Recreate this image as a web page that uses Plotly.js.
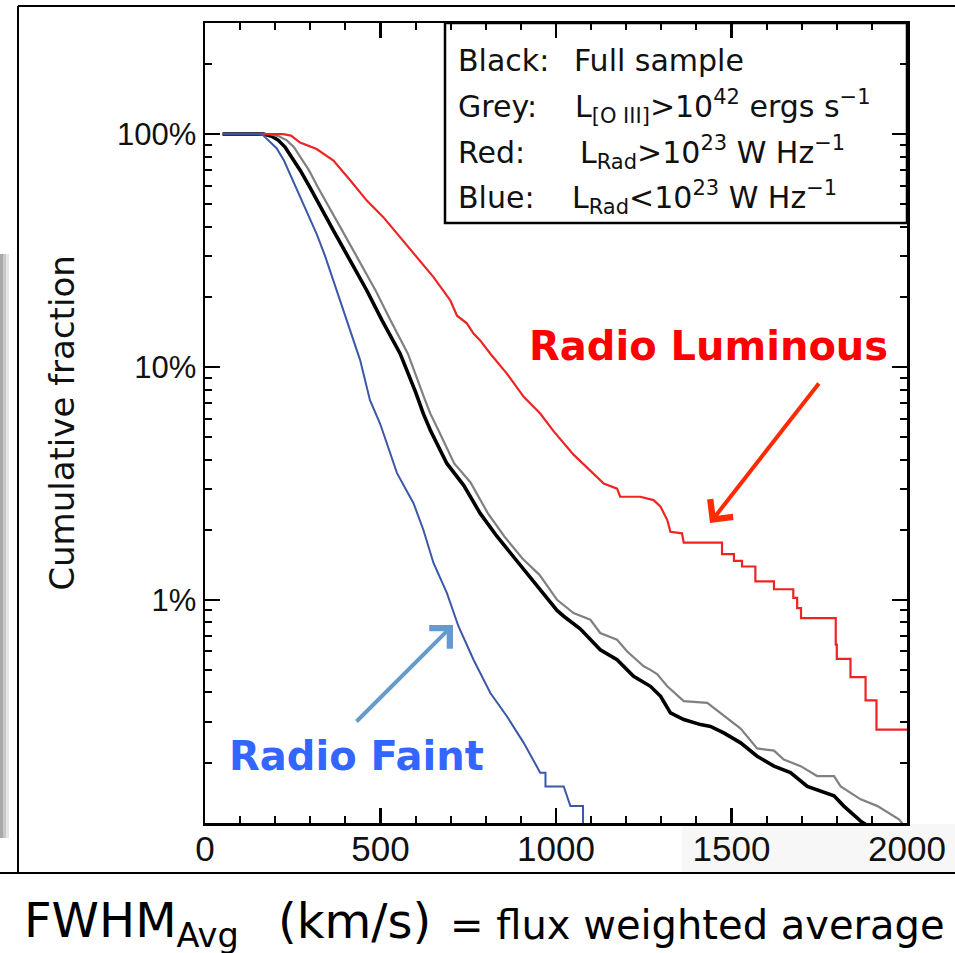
<!DOCTYPE html>
<html><head><meta charset="utf-8">
<script src="https://cdn.plot.ly/plotly-3.0.1.min.js"></script>
<style>html,body{margin:0;padding:0;background:#fff;overflow:hidden;}</style>
</head><body>
<div id="chart" style="width:955px;height:953px;"></div>
<script>
// ---- data (FWHM in km/s, cumulative fraction in %) ----
const fullX = [50,166,190,209,228,242,271,299,318,366,403,461,504,556,600,622,642,689,737,784,832,879,927,955,974,1003,1022,1069,1126,1174,1221,1269,1298,1326,1364,1412,1440,1478,1526,1573,1621,1668,1716,1763,1792,1820,1849,1868,1897];
const fullY = [100,100,98,94,88,82,70,59,52,38.5,30.6,21.3,15.9,11.4,7.8,6.3,5.35,3.85,3.1,2.35,1.87,1.53,1.26,1.12,1.03,0.9,0.85,0.75,0.61,0.553,0.469,0.425,0.385,0.327,0.306,0.291,0.286,0.268,0.243,0.213,0.193,0.181,0.158,0.149,0.144,0.13,0.118,0.112,0.105];

const greyX = [50,185,209,233,253,266,296,322,343,391,428,486,528,578,627,642,665,710,756,806,853,905,953,1003,1050,1098,1126,1174,1203,1250,1269,1288,1317,1336,1364,1431,1469,1526,1573,1621,1649,1697,1744,1792,1811,1868,1916,1944,1977,1995];
const greyY = [100,100,98,94,88,82,70,59,52,38.5,30.6,21.3,15.9,11.4,7.2,6.3,5.35,3.85,3.2,2.35,1.87,1.5,1.28,1.0,0.877,0.821,0.72,0.674,0.6,0.518,0.5,0.48,0.425,0.4,0.367,0.361,0.327,0.28,0.23,0.225,0.206,0.193,0.175,0.175,0.158,0.139,0.13,0.122,0.114,0.106];

const redX = [50,223,245,271,318,366,413,461,508,556,604,651,699,718,746,765,784,813,860,908,955,993,1050,1107,1136,1174,1183,1240,1260,1278,1298,1317,1326,1359,1364,1473,1473,1507,1507,1530,1530,1568,1568,1621,1621,1676,1676,1687,1687,1698,1698,1797,1797,1800,1800,1839,1839,1882,1882,1913,1913,2000];
const redY = [100,100,98.5,92,86.3,76.9,63.5,51.8,44,36,29.6,24.3,19.3,16.6,15.4,13.9,13,11.4,9.36,7.44,6.31,5.3,4.2,3.5,3.16,3.0,2.77,2.77,2.73,2.68,2.51,2.2,1.96,1.93,1.76,1.76,1.57,1.57,1.47,1.47,1.39,1.39,1.2,1.2,1.11,1.11,1.02,1.02,0.921,0.921,0.834,0.834,0.642,0.642,0.557,0.557,0.465,0.465,0.37,0.37,0.277,0.277];

const blueX = [50,150,165,181,204,225,242,257,280,318,342,366,404,442,470,499,547,594,622,651,689,722,765,813,860,908,955,970,970,1022,1041,1077,1077];
const blueY = [100,100,99,94,87,77,67.4,59.5,50,37.3,30,23.5,15.9,10.7,7.2,5.7,3.5,2.6,2.0,1.44,1.07,0.77,0.553,0.398,0.316,0.243,0.181,0.181,0.158,0.158,0.13,0.13,0.09];

const xTickVals = [0, 500, 1000, 1500, 2000];
const xTickText = ['0', '500', '1000', '1500', '2000'];
const yTickVals = [1, 10, 100];
const yTickText = ['1%', '10%', '100%'];
const yMinorVals = [0.2,0.3,0.4,0.5,0.6,0.7,0.8,0.9,2,3,4,5,6,7,8,9,20,30,40,50,60,70,80,90,200];

// ---- geometry helpers (page pixels -> paper) ----
const W = 955, H = 953, ML = 205, MR = 48, MT = 23, MB = 130;
const PW = W - ML - MR, PH = H - MT - MB;
const px = v => (v - ML) / PW;
const py = v => (H - MB - v) / PH;

const traces = [
  {x: fullX, y: fullY, mode: 'lines', line: {color: '#000000', width: 3.6}, name: 'Full sample'},
  {x: greyX, y: greyY, mode: 'lines', line: {color: '#808080', width: 2.2}, name: 'L[O III] > 1e42'},
  {x: redX, y: redY, mode: 'lines', line: {color: '#ee2424', width: 2.2}, name: 'L_Rad > 1e23'},
  {x: blueX, y: blueY, mode: 'lines', line: {color: '#3b58a8', width: 2}, name: 'L_Rad < 1e23'}
];

const legFont = {family: 'DejaVu Sans', size: 30, color: '#111'};
const legRows = [
  {y: 61, label: 'Black:', lx: 456, text: 'Full sample', tx: 572},
  {y: 107, label: 'Grey:', lx: 456, text: 'L<sub>[O III]</sub>>10<sup>42</sup> ergs s<sup>\u22121</sup>', tx: 573},
  {y: 152, label: 'Red:', lx: 456, text: 'L<sub>Rad</sub>>10<sup>23</sup> W Hz<sup>\u22121</sup>', tx: 578},
  {y: 197, label: 'Blue:', lx: 456, text: 'L<sub>Rad</sub><10<sup>23</sup> W Hz<sup>\u22121</sup>', tx: 570}
];
const annotations = [];
legRows.forEach(r => {
  annotations.push({xref: 'paper', yref: 'paper', x: px(r.lx), y: py(r.y), xanchor: 'left', yanchor: 'middle', text: r.label, showarrow: false, font: legFont});
  annotations.push({xref: 'paper', yref: 'paper', x: px(r.tx), y: py(r.y), xanchor: 'left', yanchor: 'middle', text: r.text, showarrow: false, font: legFont});
});
annotations.push({xref: 'paper', yref: 'paper', x: px(527), y: py(346), xanchor: 'left', yanchor: 'middle', text: 'Radio Luminous', showarrow: false, font: {family: 'DejaVu Sans', size: 40, color: '#ff0000', weight: 700}});
annotations.push({xref: 'paper', yref: 'paper', x: px(227), y: py(756), xanchor: 'left', yanchor: 'middle', text: 'Radio Faint', showarrow: false, font: {family: 'DejaVu Sans', size: 40, color: '#3366ff', weight: 700}});
// arrows
annotations.push({xref: 'paper', yref: 'paper', x: px(710), y: py(523), ax: 110, ay: -141, text: '', showarrow: true, arrowhead: 4, arrowsize: 1.4, arrowwidth: 4, arrowcolor: '#ff2a00', standoff: 0});
annotations.push({xref: 'paper', yref: 'paper', x: px(453), y: py(625), ax: -98, ay: 98, text: '', showarrow: true, arrowhead: 4, arrowsize: 1.4, arrowwidth: 4, arrowcolor: '#6699cc', standoff: 0});
// bottom caption
annotations.push({xref: 'paper', yref: 'paper', x: px(22), y: py(890), xanchor: 'left', yanchor: 'top', text: 'FWHM<sub>Avg</sub>', showarrow: false, font: {family: 'DejaVu Sans', size: 48, color: '#000'}});
annotations.push({xref: 'paper', yref: 'paper', x: px(276), y: py(891), xanchor: 'left', yanchor: 'top', text: '(km/s)', showarrow: false, font: {family: 'DejaVu Sans', size: 48, color: '#000'}});
annotations.push({xref: 'paper', yref: 'paper', x: px(448), y: py(900), xanchor: 'left', yanchor: 'top', text: '= flux weighted average', showarrow: false, font: {family: 'DejaVu Sans', size: 40, color: '#000'}});

const shapes = [
  // faint panel behind right x labels
  {type: 'rect', xref: 'paper', yref: 'paper', x0: px(682), x1: px(955), y0: py(872), y1: py(824), line: {width: 0}, fillcolor: '#f7f7f7', layer: 'below'},
  // left drop shadow
  {type: 'rect', xref: 'paper', yref: 'paper', x0: px(0), x1: px(3), y0: py(838), y1: py(254), line: {width: 0}, fillcolor: '#a8a8a8'},
  {type: 'rect', xref: 'paper', yref: 'paper', x0: px(3), x1: px(6), y0: py(838), y1: py(254), line: {width: 0}, fillcolor: '#c8c8c8'},
  {type: 'rect', xref: 'paper', yref: 'paper', x0: px(6), x1: px(9), y0: py(838), y1: py(254), line: {width: 0}, fillcolor: '#e6e6e6'},
  // outer frame
  {type: 'line', xref: 'paper', yref: 'paper', x0: px(18), x1: px(955), y0: py(6), y1: py(6), line: {color: '#000', width: 2}},
  {type: 'line', xref: 'paper', yref: 'paper', x0: px(18), x1: px(18), y0: py(6), y1: py(873), line: {color: '#000', width: 2}},
  {type: 'line', xref: 'paper', yref: 'paper', x0: px(0), x1: px(955), y0: py(873), y1: py(873), line: {color: '#000', width: 2}},
  // legend box
  {type: 'rect', xref: 'paper', yref: 'paper', x0: px(445), x1: 1, y0: py(223), y1: 1, line: {color: '#000', width: 2.5}, fillcolor: 'rgba(0,0,0,0)'}
];

const layout = {
  width: W, height: H,
  margin: {l: ML, r: MR, t: MT, b: MB, pad: 0},
  paper_bgcolor: '#ffffff', plot_bgcolor: '#ffffff',
  showlegend: false,
  font: {family: 'Liberation Sans', color: '#000'},
  xaxis: {
    range: [0, 2000], tickmode: 'array', tickvals: xTickVals, ticktext: xTickText,
    ticks: 'inside', ticklen: 15, tickwidth: 2.5, tickcolor: '#000',
    showline: true, linewidth: 2.5, linecolor: '#000', mirror: 'allticks',
    showgrid: false, zeroline: false, ticklabelstandoff: -7,
    tickfont: {family: 'Liberation Sans', size: 35, color: '#111'},
    minor: {dtick: 100, ticks: 'inside', ticklen: 7, tickwidth: 2, tickcolor: '#000', showgrid: false}
  },
  yaxis: {
    type: 'log', range: [Math.log10(0.11), Math.log10(300)],
    tickmode: 'array', tickvals: yTickVals, ticktext: yTickText,
    ticks: 'inside', ticklen: 15, tickwidth: 2.5, tickcolor: '#000',
    showline: true, linewidth: 2.5, linecolor: '#000', mirror: 'allticks',
    showgrid: false, zeroline: false,
    tickfont: {family: 'Liberation Sans', size: 31, color: '#111'},
    title: {text: 'Cumulative fraction', font: {family: 'DejaVu Sans', size: 34, color: '#111'}, standoff: 32},
    minor: {tickmode: 'array', tickvals: yMinorVals, ticks: 'inside', ticklen: 7, tickwidth: 2, tickcolor: '#000', showgrid: false}
  },
  annotations: annotations,
  shapes: shapes
};

Plotly.newPlot('chart', traces, layout, {displayModeBar: false, staticPlot: true});
</script>
</body></html>
